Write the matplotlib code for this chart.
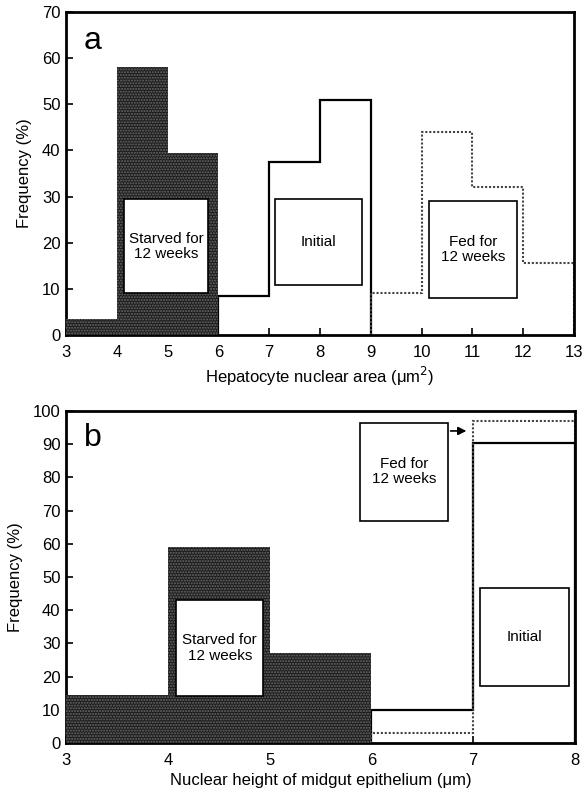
"""Nuclear size frequency histograms: starved / initial / fed (panels a, b)."""
import matplotlib
matplotlib.use("Agg")
import matplotlib.pyplot as plt
from matplotlib.patches import Rectangle

plt.rcParams["font.family"] = ["Liberation Sans", "DejaVu Sans"]

# panel a: hepatocyte nuclear area (um^2), bins of width 1
a_starved_edges = [3, 4, 5, 6]
a_starved = [3.5, 58, 39.5]
a_initial_edges = [6, 7, 8, 9]
a_initial = [8.5, 37.5, 51]
a_fed_edges = [9, 10, 11, 12, 13]
a_fed = [9, 44, 32, 15.5]
a_xticks = list(range(3, 14))
a_yticks = list(range(0, 71, 10))

# panel b: nuclear height of midgut epithelium (um)
b_starved_edges = [3, 4, 5, 6]
b_starved = [14.5, 59, 27]
b_initial_edges = [6, 7, 8]
b_initial = [10, 90.5]
b_fed_edges = [6, 7, 8]
b_fed = [3, 97]
b_xticks = list(range(3, 9))
b_yticks = list(range(0, 101, 10))

DARK = "#1c1c1c"
FED_LS = (0, (1.0, 0.9))


def style_axes(ax, xlim, ylim, xticks, yticks, xlabel):
    ax.set_xlim(*xlim)
    ax.set_ylim(*ylim)
    ax.set_xticks(xticks)
    ax.set_yticks(yticks)
    ax.tick_params(direction="in", length=5, width=1.2, labelsize=12)
    ax.tick_params(axis="x", pad=7)
    ax.tick_params(axis="y", pad=4)
    for s in ax.spines.values():
        s.set_linewidth(2)
    ax.set_ylabel("Frequency (%)", fontsize=12, labelpad=7)
    ax.set_xlabel(xlabel, fontsize=12, labelpad=4)


def starved_bars(ax, edges, vals):
    lefts = edges[:-1]
    ax.bar(lefts, vals, width=1, align="edge", color=DARK, edgecolor="#6a6a6a",
           hatch="......", linewidth=0, zorder=3)


def label_box(ax, x0, x1, y0, y1, text):
    ax.add_patch(Rectangle((x0, y0), x1 - x0, y1 - y0, facecolor="white",
                           edgecolor="black", linewidth=1.2, zorder=5))
    ax.text((x0 + x1) / 2, (y0 + y1) / 2, text, ha="center", va="center",
            fontsize=11, linespacing=1.1, zorder=6)


fig = plt.figure(figsize=(5.82, 7.92), dpi=100)

# ---- panel a
ax = fig.add_axes([0.1134, 0.577, 0.873, 0.408])
ax.stairs(a_initial, a_initial_edges, baseline=0, color="black", lw=1.6, zorder=2)
ax.stairs(a_fed, a_fed_edges, baseline=0, color="#444", lw=1.5, ls=FED_LS, zorder=2)
starved_bars(ax, a_starved_edges, a_starved)
label_box(ax, 4.15, 5.8, 9, 29.5, "Starved for\n12 weeks")
label_box(ax, 7.12, 8.82, 10.8, 29.5, "Initial")
label_box(ax, 10.15, 11.88, 8, 29, "Fed for\n12 weeks")
ax.text(0.035, 0.955, "a", transform=ax.transAxes, fontsize=23, va="top", ha="left")
style_axes(ax, (3, 13), (0, 70), a_xticks, a_yticks,
           "Hepatocyte nuclear area (μm$^2$)")

# ---- panel b
ax = fig.add_axes([0.1134, 0.062, 0.8746, 0.419])
ax.stairs(b_initial, b_initial_edges, baseline=0, color="black", lw=1.6, zorder=2)
ax.stairs(b_fed, b_fed_edges, baseline=0, color="#444", lw=1.5, ls=FED_LS, zorder=2)
starved_bars(ax, b_starved_edges, b_starved)
label_box(ax, 4.08, 4.94, 14.2, 43, "Starved for\n12 weeks")
label_box(ax, 7.07, 7.94, 17.2, 46.7, "Initial")
label_box(ax, 5.89, 6.75, 67, 96.4, "Fed for\n12 weeks")
ax.annotate("", xy=(6.96, 94), xytext=(6.75, 94),
            arrowprops=dict(arrowstyle="-|>", color="black", lw=1.2, mutation_scale=12))
ax.text(0.035, 0.965, "b", transform=ax.transAxes, fontsize=23, va="top", ha="left")
style_axes(ax, (3, 8), (0, 100), b_xticks, b_yticks,
           "Nuclear height of midgut epithelium (μm)")

fig.savefig("out.png", dpi=100)
plt.close(fig)
